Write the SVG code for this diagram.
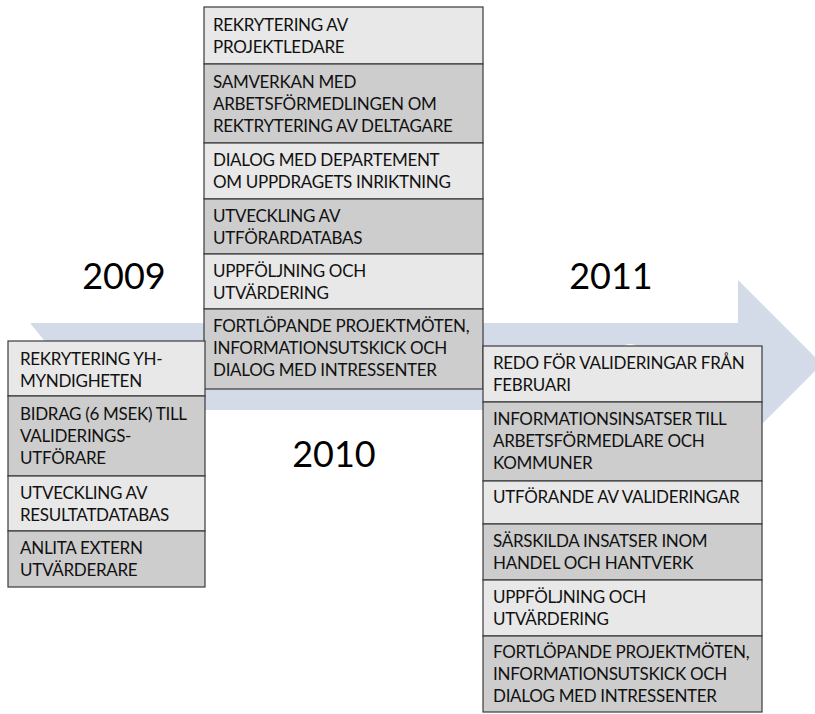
<svg xmlns="http://www.w3.org/2000/svg" width="815" height="714" viewBox="0 0 815 714">
<style>
.bg{fill:#ffffff}
.arrow{fill:#d3dae8}
.light{fill:#e8e8e8;stroke:#3a3a3a;stroke-width:1.2}
.dark{fill:#cdcdcd;stroke:#3a3a3a;stroke-width:1.2}
.t{font-family:Lato,"Open Sans","Liberation Sans",sans-serif;font-size:17px;letter-spacing:-0.3px;fill:#111}
.year{font-family:Lato,"Open Sans","Liberation Sans",sans-serif;font-size:36px;fill:#000;text-anchor:middle}
</style>
<rect class="bg" x="0" y="0" width="815" height="714"/>
<g id="timeline">
  <polygon class="arrow" points="30,323 738,323 738,280 822,364 738,448 738,410 30,410 65,366"/>
  <ellipse cx="630" cy="351" rx="9" ry="7" fill="#ffffff"/>
</g>
<g id="connectors"></g>
<g id="year-2009"><text class="year" x="124" y="289">2009</text></g>
<g id="year-2010"><text class="year" x="334" y="467">2010</text></g>
<g id="year-2011"><text class="year" x="611" y="289">2011</text></g>

<!-- 2010 column (middle) -->
<g id="m1"><rect class="light" x="204" y="7" width="279" height="57"/>
  <text class="t" x="213" y="31">REKRYTERING AV</text><text class="t" x="213" y="53">PROJEKTLEDARE</text></g>
<g id="m2"><rect class="dark" x="204" y="64" width="279" height="79"/>
  <text class="t" x="213" y="88">SAMVERKAN MED</text><text class="t" x="213" y="110">ARBETSFÖRMEDLINGEN OM</text><text class="t" x="213" y="132">REKTRYTERING AV DELTAGARE</text></g>
<g id="m3"><rect class="light" x="204" y="143" width="279" height="56"/>
  <text class="t" x="213" y="166">DIALOG MED DEPARTEMENT</text><text class="t" x="213" y="188">OM UPPDRAGETS INRIKTNING</text></g>
<g id="m4"><rect class="dark" x="204" y="199" width="279" height="55"/>
  <text class="t" x="213" y="222">UTVECKLING AV</text><text class="t" x="213" y="244">UTFÖRARDATABAS</text></g>
<g id="m5"><rect class="light" x="204" y="254" width="279" height="55"/>
  <text class="t" x="213" y="277">UPPFÖLJNING OCH</text><text class="t" x="213" y="299">UTVÄRDERING</text></g>
<g id="m6"><rect class="dark" x="204" y="309" width="279" height="80"/>
  <text class="t" x="213" y="332">FORTLÖPANDE PROJEKTMÖTEN,</text><text class="t" x="213" y="354">INFORMATIONSUTSKICK OCH</text><text class="t" x="213" y="376">DIALOG MED INTRESSENTER</text></g>

<!-- 2009 column (left) -->
<g id="l1"><rect class="light" x="8" y="341" width="197" height="55"/>
  <text class="t" x="20" y="365">REKRYTERING YH-</text><text class="t" x="20" y="387">MYNDIGHETEN</text></g>
<g id="l2"><rect class="dark" x="8" y="396" width="197" height="80"/>
  <text class="t" x="20" y="420">BIDRAG (6 MSEK) TILL</text><text class="t" x="20" y="442">VALIDERINGS-</text><text class="t" x="20" y="464">UTFÖRARE</text></g>
<g id="l3"><rect class="light" x="8" y="476" width="197" height="55"/>
  <text class="t" x="20" y="499">UTVECKLING AV</text><text class="t" x="20" y="521">RESULTATDATABAS</text></g>
<g id="l4"><rect class="dark" x="8" y="531" width="197" height="56"/>
  <text class="t" x="20" y="554">ANLITA EXTERN</text><text class="t" x="20" y="576">UTVÄRDERARE</text></g>

<!-- 2011 column (right) -->
<g id="r1"><rect class="light" x="483" y="346" width="279" height="56"/>
  <text class="t" x="493" y="369">REDO FÖR VALIDERINGAR FRÅN</text><text class="t" x="493" y="391">FEBRUARI</text></g>
<g id="r2"><rect class="dark" x="483" y="402" width="279" height="79"/>
  <text class="t" x="493" y="425">INFORMATIONSINSATSER TILL</text><text class="t" x="493" y="447">ARBETSFÖRMEDLARE OCH</text><text class="t" x="493" y="469">KOMMUNER</text></g>
<g id="r3"><rect class="light" x="483" y="481" width="279" height="43"/>
  <text class="t" x="493" y="503">UTFÖRANDE AV VALIDERINGAR</text></g>
<g id="r4"><rect class="dark" x="483" y="524" width="279" height="56"/>
  <text class="t" x="493" y="547">SÄRSKILDA INSATSER INOM</text><text class="t" x="493" y="569">HANDEL OCH HANTVERK</text></g>
<g id="r5"><rect class="light" x="483" y="580" width="279" height="56"/>
  <text class="t" x="493" y="603">UPPFÖLJNING OCH</text><text class="t" x="493" y="625">UTVÄRDERING</text></g>
<g id="r6"><rect class="dark" x="483" y="636" width="279" height="76"/>
  <text class="t" x="493" y="658">FORTLÖPANDE PROJEKTMÖTEN,</text><text class="t" x="493" y="680">INFORMATIONSUTSKICK OCH</text><text class="t" x="493" y="702">DIALOG MED INTRESSENTER</text></g>
</svg>
